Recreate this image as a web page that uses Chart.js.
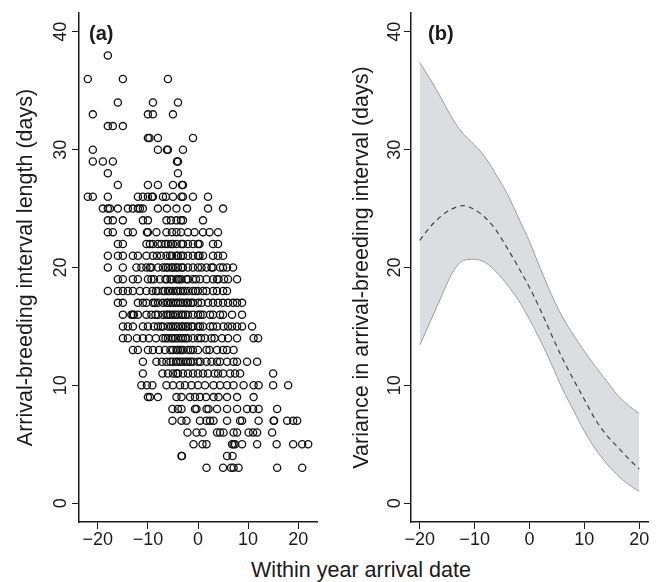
<!DOCTYPE html>
<html>
<head>
<meta charset="utf-8">
<script src="https://cdn.jsdelivr.net/npm/chart.js@4.4.0/dist/chart.umd.min.js"></script>
<style>
  html, body { margin: 0; padding: 0; background: #fff; }
  body { width: 659px; height: 582px; position: relative; overflow: hidden; }
  #panelA { position: absolute; left: 0; top: 0; }
  #panelB { position: absolute; left: 330px; top: 0; }
  #xTitle {
    position: absolute; left: 361px; top: 560px; transform: translateX(-50%);
    font: 21.5px/1 "Liberation Sans", Arial, sans-serif; color: #1a1a1a; white-space: nowrap;
  }
</style>
</head>
<body>
<canvas id="panelA" width="330" height="556"></canvas>
<canvas id="panelB" width="329" height="556"></canvas>
<div id="xTitle">Within year arrival date</div>
<script>
// (a) arrival-breeding interval (days), one row per interval length,
// with the within-year arrival dates observed at that length
const rowLevels = [38, 36, 34, 33, 32, 31, 30, 29, 28, 27, 26, 25, 24, 23, 22, 21, 20,
                   19, 18, 17, 16, 15, 14, 13, 12, 11, 10, 9, 8, 7, 6, 5, 4, 3];
const rowDates = [
  [-18],
  [-22, -15, -6],
  [-16, -9, -4],
  [-21, -10, -9, -5],
  [-18, -17, -15],
  [-10, -9.7, -8, -1],
  [-21, -8, -6.2, -6, -3],
  [-21, -19, -17, -4.2, -4],
  [-18, -4],
  [-16, -10, -8, -5, -3.2, -3],
  [-22, -21, -18, -12, -11, -10, -9.2, -9, -7, -6.4, -5, -3.3, -3, -1, 2],
  [-19, -18, -17.6, -16, -14, -13, -12, -11.6, -11, -8, -6.2, -4.3, -2.2, 2, 5],
  [-18, -17, -15, -11, -10, -6.3, -5.4, -4.3, -3.4, -3, 1],
  [-18, -17, -14, -13, -10.2, -10, -8.3, -6.3, -5.2, -4.3, -3.4, -2, -0.7, 1, 2.3, 4],
  [-16, -15, -10.3, -9.6, -9, -8, -7.3, -6.5, -6, -5.4, -5, -4.3, -3.3, -3, -2, -1, 0, 0.3, 3, 4],
  [-18, -16, -15, -13, -12, -10.3, -9, -8.2, -7.4, -6.3, -5.6, -5.2, -4.3, -4, -3.4, -3, -2,
   -1, 0, 0.3, 1, 3, 4, 5],
  [-18, -15, -12.3, -11.3, -10.3, -9.6, -9.3, -8, -7, -6.4, -6, -5.3, -5, -4.4, -4, -3.3, -3,
   -2, -1, 0, 0.7, 1.7, 2.7, 3, 4.4, 5, 5.8, 7],
  [-16, -15, -13, -12, -10, -9.3, -8.8, -7.6, -6.5, -6.2, -5.5, -5.2, -4.3, -4, -3.7, -3.3,
   -2.3, -2, -1, -0.4, 0.4, 1.7, 3, 3.8, 4.1, 5.2, 6, 7.8],
  [-18, -16, -15, -14, -13, -11.6, -10.3, -9.1, -8.4, -8, -7, -6.6, -6, -5.7, -5, -4.3, -4,
   -3.5, -3, -2.6, -2, -1, -0.5, 0, 1, 1.7, 3, 3.8, 5, 5.8],
  [-16, -15, -12, -11, -10.3, -9, -8.6, -8, -7, -6.3, -6, -5.4, -5, -4.4, -4, -3.5, -3, -2.3,
   -2, -1.4, -1, 0, 0.7, 2, 3, 4, 5, 6, 7, 7.8, 8.8],
  [-15, -13.3, -13, -12.8, -12, -10.3, -9.3, -8.5, -8, -7, -6.3, -6, -5.5, -5, -4.5, -4, -3.3,
   -3, -2.5, -2, -1, 0, 0.5, 1, 2.4, 3, 4.4, 5, 6.8, 8.8],
  [-15, -14, -13, -11, -10, -8.8, -8, -7.4, -7, -6, -5.4, -5, -4.4, -4, -3.3, -3, -2.4, -2,
   -1.3, -1, 0, 0.4, 1, 2.4, 3, 3.8, 5.1, 6, 6.8, 7.8, 8.8, 10.8],
  [-15, -14, -12.2, -11, -9.8, -8.4, -7, -6.5, -6, -5.3, -5, -4.5, -4, -3.4, -3, -2.5, -2, -1,
   0, 0.6, 1.4, 2.7, 3.3, 4.8, 6, 7.8, 11.1, 12],
  [-13, -12, -10, -9, -7.8, -6.6, -5.5, -5, -4.3, -4, -3.6, -3.3, -3, -2, -1.5, -1, 0, 1.7,
   2.3, 3.8, 5, 5.8, 7.1],
  [-11, -8.3, -7.2, -6.3, -5.5, -5, -4.4, -4, -3.5, -3, -2.4, -2, -1.5, -1, 0, 0.5, 1.7, 2.7,
   3.8, 4.4, 5.8, 7.1, 7.8, 9.8, 11.8],
  [-11, -7.1, -6, -5, -4.3, -4, -3, -2, -1, 0, 1, 2, 3.3, 4, 5, 6.4, 7.4, 8.4, 15],
  [-11.3, -10.2, -9.1, -6.3, -5, -3.6, -2.6, -1.3, 0, 1.4, 3.1, 4.4, 5.8, 7.1, 9.1, 11.1,
   12.1, 15, 18],
  [-10, -9.6, -8, -4.3, -3.3, -1.6, -0.6, 0.4, 1.6, 3.1, 4.1, 5.8, 7.8, 11.1],
  [-5.1, -4, -3.3, -0.6, -0.3, 1.7, 2.1, 3.8, 5.8, 7.8, 9.8, 11, 12.1, 15.8],
  [-5.1, -3.3, -2.3, 0.4, 1.7, 2.4, 3.1, 5.8, 8.4, 8.8, 12.1, 15.1, 15.2, 17.8, 19, 19.8],
  [-2.1, -0.3, 0.9, 3.8, 4.4, 5.1, 7.1, 7.8, 10.1, 11, 11.8, 14.8],
  [-0.9, 0.9, 1.7, 6.8, 7.1, 7.4, 8.8, 11.8, 15.7, 19, 20.8, 22],
  [-3.3, -3.2, 5.8, 6.9],
  [1.7, 5, 6.6, 7.1, 8.1, 15.8, 20.8]
];

// (b) fitted variance in the interval with its confidence band
const bandDates = [-20, -18, -16, -14, -12, -10, -8, -6, -4, -2, 0, 2, 4, 6, 8, 10, 12, 14, 16, 18, 20];
const bandUpper = [37.4, 35.9, 34.3, 32.6, 31.3, 30.4, 29.3, 27.8, 26.2, 24.2, 22.2,
                   19.9, 17.7, 15.8, 14.3, 12.9, 11.6, 10.4, 9.2, 8.3, 7.6];
const bandLower = [13.4, 15.5, 17.6, 19.6, 20.6, 20.7, 20.4, 19.6, 18.5, 17.2, 15.6,
                   13.8, 11.8, 9.7, 7.9, 6.1, 4.6, 3.4, 2.4, 1.6, 1.0];
const bandMean  = [22.3, 23.5, 24.4, 25.0, 25.25, 24.9, 24.2, 23.1, 21.6, 20.0, 18.3,
                   16.4, 14.3, 12.3, 10.5, 8.8, 7.1, 5.8, 4.8, 3.8, 2.9];

const xTicks = [-20, -10, 0, 10, 20];
const yTicks = [0, 10, 20, 30, 40];

const INK = '#1a1a1a';
const FAMILY = "'Liberation Sans', Arial, sans-serif";

const signed = v => (v < 0 ? '\u2212' + Math.abs(v) : String(v));

function xAxis(min, max) {
  return {
    type: 'linear', min, max,
    afterBuildTicks: s => { s.ticks = xTicks.map(v => ({ value: v })); },
    afterFit: s => { s.height = 34; },
    grid: { drawOnChartArea: false, tickLength: 7, tickColor: INK, tickWidth: 1 },
    border: { display: true, color: INK, width: 1.5 },
    ticks: { color: INK, font: { family: FAMILY, size: 18 }, padding: 0,
             autoSkip: false, maxRotation: 0, callback: signed }
  };
}

function yAxis(width, text, titlePad, tickPad) {
  return {
    type: 'linear', min: -1.6, max: 41.6,
    afterBuildTicks: s => { s.ticks = yTicks.map(v => ({ value: v })); },
    afterFit: s => { s.width = width; },
    grid: { drawOnChartArea: false, tickLength: 7, tickColor: INK, tickWidth: 1 },
    border: { display: true, color: INK, width: 1.5 },
    ticks: { color: INK, font: { family: FAMILY, size: 18 }, padding: tickPad,
             autoSkip: false, minRotation: 90, maxRotation: 90, crossAlign: 'center' },
    title: { display: true, text, color: INK, font: { family: FAMILY, size: 21.5 },
             padding: { top: titlePad, bottom: 0 } }
  };
}

// bold panel letter in the top-left corner of the plotting region
const panelTag = {
  id: 'panelTag',
  afterDraw(chart, args, opts) {
    const { ctx, chartArea } = chart;
    ctx.save();
    ctx.font = 'bold 20px ' + FAMILY;
    ctx.fillStyle = INK;
    ctx.textBaseline = 'middle';
    ctx.fillText(opts.text, chartArea.left + opts.dx, chartArea.top + 21);
    ctx.restore();
  }
};

const basePlugins = { legend: { display: false }, tooltip: { enabled: false } };

const scatterPoints = [];
rowLevels.forEach((len, i) => {
  rowDates[i].forEach(d => scatterPoints.push({ x: d, y: len }));
});

new Chart(document.getElementById('panelA'), {
  type: 'scatter',
  data: {
    datasets: [{
      data: scatterPoints,
      pointStyle: 'circle',
      pointRadius: 3.6,
      pointBorderWidth: 1.3,
      borderColor: '#111',
      backgroundColor: 'rgba(0,0,0,0)'
    }]
  },
  options: {
    responsive: false, animation: false, events: [],
    layout: { padding: { top: 13, right: 13, left: 0, bottom: 0 } },
    scales: {
      x: xAxis(-23.76, 23.76),
      y: yAxis(79, 'Arrival-breeding interval length (days)', 13, 1)
    },
    plugins: { ...basePlugins, panelTag: { text: '(a)', dx: 10 } }
  },
  plugins: [panelTag]
});

const toXY = vals => bandDates.map((d, i) => ({ x: d, y: vals[i] }));

new Chart(document.getElementById('panelB'), {
  type: 'line',
  data: {
    datasets: [
      { data: toXY(bandLower), borderColor: '#9c9c9c', borderWidth: 1, pointRadius: 0, fill: false },
      { data: toXY(bandUpper), borderColor: '#9c9c9c', borderWidth: 1, pointRadius: 0,
        fill: '-1', backgroundColor: '#dcdde0' },
      { data: toXY(bandMean), borderColor: '#444', borderWidth: 1.2, borderDash: [5, 4],
        pointRadius: 0, fill: false }
    ]
  },
  options: {
    responsive: false, animation: false, events: [],
    layout: { padding: { top: 13, right: 11, left: 0, bottom: 0 } },
    elements: { line: { cubicInterpolationMode: 'monotone' } },
    scales: {
      x: xAxis(-21.6, 21.6),
      y: yAxis(81, 'Variance in arrival-breeding interval (days)', 19, -1)
    },
    plugins: { ...basePlugins, filler: { drawTime: 'beforeDatasetsDraw' },
               panelTag: { text: '(b)', dx: 17 } }
  },
  plugins: [panelTag]
});
</script>
</body>
</html>
